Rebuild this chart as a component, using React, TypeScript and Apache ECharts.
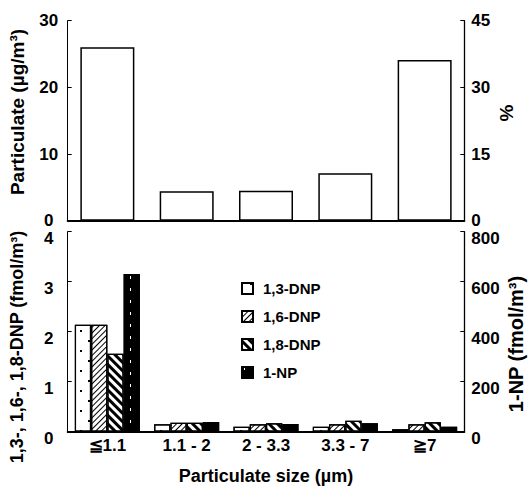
import React, { useEffect, useRef } from "react";
import * as echarts from "echarts";

const categories = ["≦1.1", "1.1 - 2", "2 - 3.3", "3.3 - 7", "≧7"];
const particulate = [26.0, 4.4, 4.5, 7.1, 24.1];
const dnp13 = [2.14, 0.15, 0.1, 0.1, 0.05];
const dnp16 = [2.14, 0.18, 0.15, 0.15, 0.15];
const dnp18 = [1.56, 0.18, 0.17, 0.22, 0.19];
const np1 = [631, 39, 31, 34, 20];
const seriesNames = ["1,3-DNP", "1,6-DNP", "1,8-DNP", "1-NP"];

const FONT = "'Liberation Sans', Arial, sans-serif";

export default function App() {
  const ref = useRef<HTMLDivElement>(null);
  useEffect(() => {
    if (!ref.current) return;
    const chart = echarts.init(ref.current, null, { renderer: "svg" });
    const txt = { color: "#000", fontFamily: FONT, fontWeight: "bold" as const };
    const lower = { verticalAlign: "top", lineHeight: 13 };
    const yLeft = (grid: number, max: number, interval: number, low: boolean) => ({
      type: "value",
      gridIndex: grid,
      position: "left",
      min: 0,
      max,
      interval,
      axisLine: { show: true, lineStyle: { color: "#000", width: 1 } },
      axisTick: { show: true, inside: true, length: 4, lineStyle: { color: "#000" } },
      axisLabel: { ...txt, fontSize: 17, align: "center", margin: 19, ...(low ? lower : {}) },
      splitLine: { show: false },
    });
    const yRight = (grid: number, max: number, interval: number, low: boolean) => ({
      type: "value",
      gridIndex: grid,
      position: "right",
      min: 0,
      max,
      interval,
      axisLine: { show: true, lineStyle: { color: "#000", width: 1.3 } },
      axisTick: { show: true, inside: true, length: 4, lineStyle: { color: "#000" } },
      axisLabel: { ...txt, fontSize: 17, margin: 7, ...(low ? lower : {}) },
      splitLine: { show: false },
    });
    const barBorder = { borderColor: "#000", borderWidth: 1.2 };
    chart.setOption({
      animation: false,
      backgroundColor: "#fff",
      grid: [
        { left: 67.7, right: 66.7, top: 20.7, height: 200 },
        { left: 67.7, right: 66.7, top: 231.7, height: 200 },
      ],
      xAxis: [
        {
          type: "category",
          gridIndex: 0,
          data: categories,
          axisLine: { lineStyle: { color: "#000", width: 2 } },
          axisTick: { show: false },
          axisLabel: { show: false },
        },
        {
          type: "category",
          gridIndex: 1,
          data: categories,
          axisLine: { lineStyle: { color: "#000", width: 2 } },
          axisTick: { show: false },
          axisLabel: { ...txt, fontSize: 17, margin: 5, interval: 0 },
        },
      ],
      yAxis: [yLeft(0, 30, 10, false), yRight(0, 45, 15, false), yLeft(1, 4, 1, true), yRight(1, 800, 200, true)],
      legend: {
        orient: "vertical",
        left: 236,
        top: 276,
        icon: "rect",
        itemWidth: 11,
        itemHeight: 11,
        itemGap: 13,
        data: seriesNames,
        textStyle: { ...txt, fontSize: 15, padding: [0, 0, 0, 5] },
      },
      graphic: [
        {
          type: "text",
          x: 17,
          y: 112,
          rotation: Math.PI / 2,
          style: { text: "Particulate (µg/m³)", ...txt, fontSize: 19, fill: "#000", textAlign: "center", textVerticalAlign: "middle" },
        },
        {
          type: "text",
          x: 17,
          y: 347,
          rotation: Math.PI / 2,
          style: { text: "1,3-, 1,6-, 1,8-DNP (fmol/m³)", ...txt, fontSize: 18, fill: "#000", textAlign: "center", textVerticalAlign: "middle" },
        },
        {
          type: "text",
          x: 506,
          y: 113,
          rotation: Math.PI / 2,
          style: { text: "%", ...txt, fontSize: 19, fill: "#000", textAlign: "center", textVerticalAlign: "middle" },
        },
        {
          type: "text",
          x: 516,
          y: 344,
          rotation: Math.PI / 2,
          style: { text: "1-NP (fmol/m³)", ...txt, fontSize: 20, fill: "#000", textAlign: "center", textVerticalAlign: "middle" },
        },
        {
          type: "text",
          x: 266,
          y: 476,
          style: { text: "Particulate size (µm)", ...txt, fontSize: 18, fill: "#000", textAlign: "center", textVerticalAlign: "middle" },
        },
      ],
      series: [
        {
          type: "bar",
          name: "Particulate",
          xAxisIndex: 0,
          yAxisIndex: 0,
          barWidth: 54,
          data: particulate,
          itemStyle: { color: "#fff", borderColor: "#000", borderWidth: 1.5 },
        },
        {
          type: "bar",
          name: seriesNames[0],
          xAxisIndex: 1,
          yAxisIndex: 2,
          barGap: "0%",
          barCategoryGap: "18%",
          data: dnp13.map((v, i) => (i === 4 ? { value: v, itemStyle: { color: "#2559a8" } } : v)),
          itemStyle: {
            color: "#fff",
            ...barBorder,
            decal: {
              symbol: "rect",
              symbolSize: 1,
              color: "#000",
              dashArrayX: [[2, 14], [0, 8, 2, 6]],
              dashArrayY: [2, 8],
            },
          },
        },
        {
          type: "bar",
          name: seriesNames[1],
          xAxisIndex: 1,
          yAxisIndex: 2,
          barGap: "0%",
          barCategoryGap: "18%",
          data: dnp16,
          itemStyle: {
            color: "#fff",
            ...barBorder,
            decal: {
              symbol: "rect",
              symbolSize: 1,
              color: "#000",
              dashArrayX: [1, 0],
              dashArrayY: [1, 3],
              rotation: -Math.PI / 4,
            },
          },
        },
        {
          type: "bar",
          name: seriesNames[2],
          xAxisIndex: 1,
          yAxisIndex: 2,
          barGap: "0%",
          barCategoryGap: "18%",
          data: dnp18,
          itemStyle: {
            color: "#fff",
            ...barBorder,
            decal: {
              symbol: "rect",
              symbolSize: 1,
              color: "#000",
              dashArrayX: [1, 0],
              dashArrayY: [3, 3],
              rotation: Math.PI / 4,
            },
          },
        },
        {
          type: "bar",
          name: seriesNames[3],
          xAxisIndex: 1,
          yAxisIndex: 3,
          barGap: "0%",
          barCategoryGap: "18%",
          data: np1,
          itemStyle: {
            color: "#000",
            ...barBorder,
            decal: {
              symbol: "rect",
              symbolSize: 1,
              color: "#fff",
              dashArrayX: [[0, 2, 1, 13]],
              dashArrayY: [3, 9],
            },
          },
        },
      ],
    });
    return () => chart.dispose();
  }, []);
  return (
    <div
      ref={ref}
      style={{ position: "fixed", left: 0, top: 0, width: 531, height: 489, background: "#fff" }}
    />
  );
}
